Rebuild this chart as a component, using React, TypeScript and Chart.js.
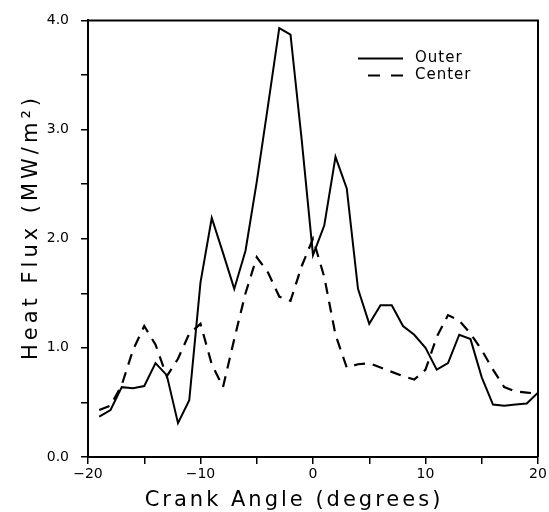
import React, { useEffect, useRef } from 'react';
import { Chart, registerables } from 'chart.js';

Chart.register(...registerables);

// Crank angle (degrees)
const angles = [-19, -18, -17, -16, -15, -14, -13, -12, -11, -10, -9, -8, -7, -6, -5, -4, -3, -2, -1, 0,
  1, 2, 3, 4, 5, 6, 7, 8, 9, 10, 11, 12, 13, 14, 15, 16, 17, 18, 19, 20];

// Heat flux (MW/m^2)
const outer = [0.37, 0.43, 0.64, 0.63, 0.65, 0.86, 0.75, 0.31, 0.52, 1.6, 2.19, 1.87, 1.54, 1.89, 2.52, 3.22, 3.93, 3.87, 2.9, 1.85,
  2.12, 2.75, 2.46, 1.54, 1.22, 1.39, 1.39, 1.2, 1.12, 1.0, 0.8, 0.86, 1.12, 1.08, 0.73, 0.48, 0.47, 0.48, 0.49, 0.59];

const center = [0.43, 0.47, 0.66, 0.98, 1.2, 1.03, 0.74, 0.9, 1.13, 1.22, 0.85, 0.64, 1.08, 1.5, 1.83, 1.69, 1.47, 1.43, 1.75, 2.0,
  1.65, 1.12, 0.82, 0.85, 0.86, 0.82, 0.78, 0.74, 0.71, 0.8, 1.1, 1.3, 1.25, 1.13, 0.98, 0.8, 0.64, 0.6, 0.59, 0.58];

const seriesNames = ['Outer', 'Center'];
const xTitle = 'Crank Angle (degrees)';
const yTitle = 'Heat Flux (MW/m\u00B2)';

const xMin = -20;
const xMax = 20;
const yMin = 0;
const yMax = 4;

const FONT = '"DejaVu Sans", "Liberation Sans", sans-serif';

export default function App() {
  const ref = useRef<HTMLCanvasElement>(null);

  useEffect(() => {
    if (!ref.current) return;

    const deco = {
      id: 'deco',
      afterDraw(chart: any) {
        const { ctx, chartArea: a } = chart;
        ctx.save();
        // frame top & right
        ctx.strokeStyle = '#000';
        ctx.lineWidth = 2;
        ctx.setLineDash([]);
        ctx.beginPath();
        ctx.moveTo(a.left, a.top);
        ctx.lineTo(a.right, a.top);
        ctx.lineTo(a.right, a.bottom);
        ctx.stroke();

        // legend
        const lx = a.left + 270;
        const ly = a.top + 38;
        ctx.lineWidth = 2;
        ctx.beginPath();
        ctx.moveTo(lx, ly);
        ctx.lineTo(lx + 45, ly);
        ctx.stroke();
        ctx.setLineDash([12, 11]);
        ctx.beginPath();
        ctx.moveTo(lx + 10, ly + 17);
        ctx.lineTo(lx + 45, ly + 17);
        ctx.stroke();
        ctx.setLineDash([]);
        ctx.fillStyle = '#000';
        ctx.font = '15px ' + FONT;
        ctx.textAlign = 'left';
        ctx.textBaseline = 'middle';
        (ctx as any).letterSpacing = '1px';
        ctx.fillText(seriesNames[0], lx + 57, ly);
        ctx.fillText(seriesNames[1], lx + 57, ly + 17);

        // axis titles
        ctx.font = '21px ' + FONT;
        (ctx as any).letterSpacing = '3px';
        ctx.textAlign = 'center';
        ctx.textBaseline = 'middle';
        ctx.fillText(xTitle, 294, 501);
        ctx.translate(32, 227);
        ctx.rotate(-Math.PI / 2);
        (ctx as any).letterSpacing = '4px';
        ctx.fillText(yTitle, 0, 0);
        ctx.restore();
      },
    };

    const chart = new Chart(ref.current, {
      type: 'line',
      data: {
        datasets: [
          {
            label: seriesNames[0],
            data: angles.map((x, i) => ({ x, y: outer[i] })),
            borderColor: '#000',
            borderWidth: 2,
            pointRadius: 0,
            tension: 0,
            fill: false,
          },
          {
            label: seriesNames[1],
            data: angles.map((x, i) => ({ x, y: center[i] })),
            borderColor: '#000',
            borderWidth: 2.2,
            borderDash: [11, 8],
            pointRadius: 0,
            tension: 0,
            fill: false,
          },
        ],
      },
      options: {
        responsive: false,
        animation: false,
        layout: { padding: { left: 0, right: 11, top: 15, bottom: 0 } },
        plugins: {
          legend: { display: false },
          tooltip: { enabled: false },
        },
        scales: {
          x: {
            type: 'linear',
            min: xMin,
            max: xMax,
            afterFit: (s: any) => { s.height = 55; },
            ticks: {
              stepSize: 5,
              color: '#000',
              font: { family: FONT, size: 14 },
              padding: 2,
              maxRotation: 0,
              callback: (v: any) => (Number(v) % 10 === 0 ? (Number(v) < 0 ? '\u2212' + Math.abs(Number(v)) : String(v)) : ''),
            },
            grid: { drawOnChartArea: false, drawTicks: true, tickLength: 7, color: '#000', lineWidth: 1.5 },
            border: { display: true, color: '#000', width: 2 },
          },
          y: {
            type: 'linear',
            min: yMin,
            max: yMax,
            afterFit: (s: any) => { s.width = 88; },
            ticks: {
              stepSize: 0.5,
              color: '#000',
              font: { family: FONT, size: 14 },
              padding: 12,
              callback: (v: any) => (Number(v) % 1 === 0 ? Number(v).toFixed(1) : ''),
            },
            grid: { drawOnChartArea: false, drawTicks: true, tickLength: 7, color: '#000', lineWidth: 1.5 },
            border: { display: true, color: '#000', width: 2 },
          },
        },
      },
      plugins: [deco],
    });

    return () => chart.destroy();
  }, []);

  return (
    <div style={{ position: 'absolute', left: 0, top: 0, width: 549, height: 512, background: '#fff' }}>
      <canvas ref={ref} width={549} height={512} style={{ display: 'block' }} />
    </div>
  );
}
